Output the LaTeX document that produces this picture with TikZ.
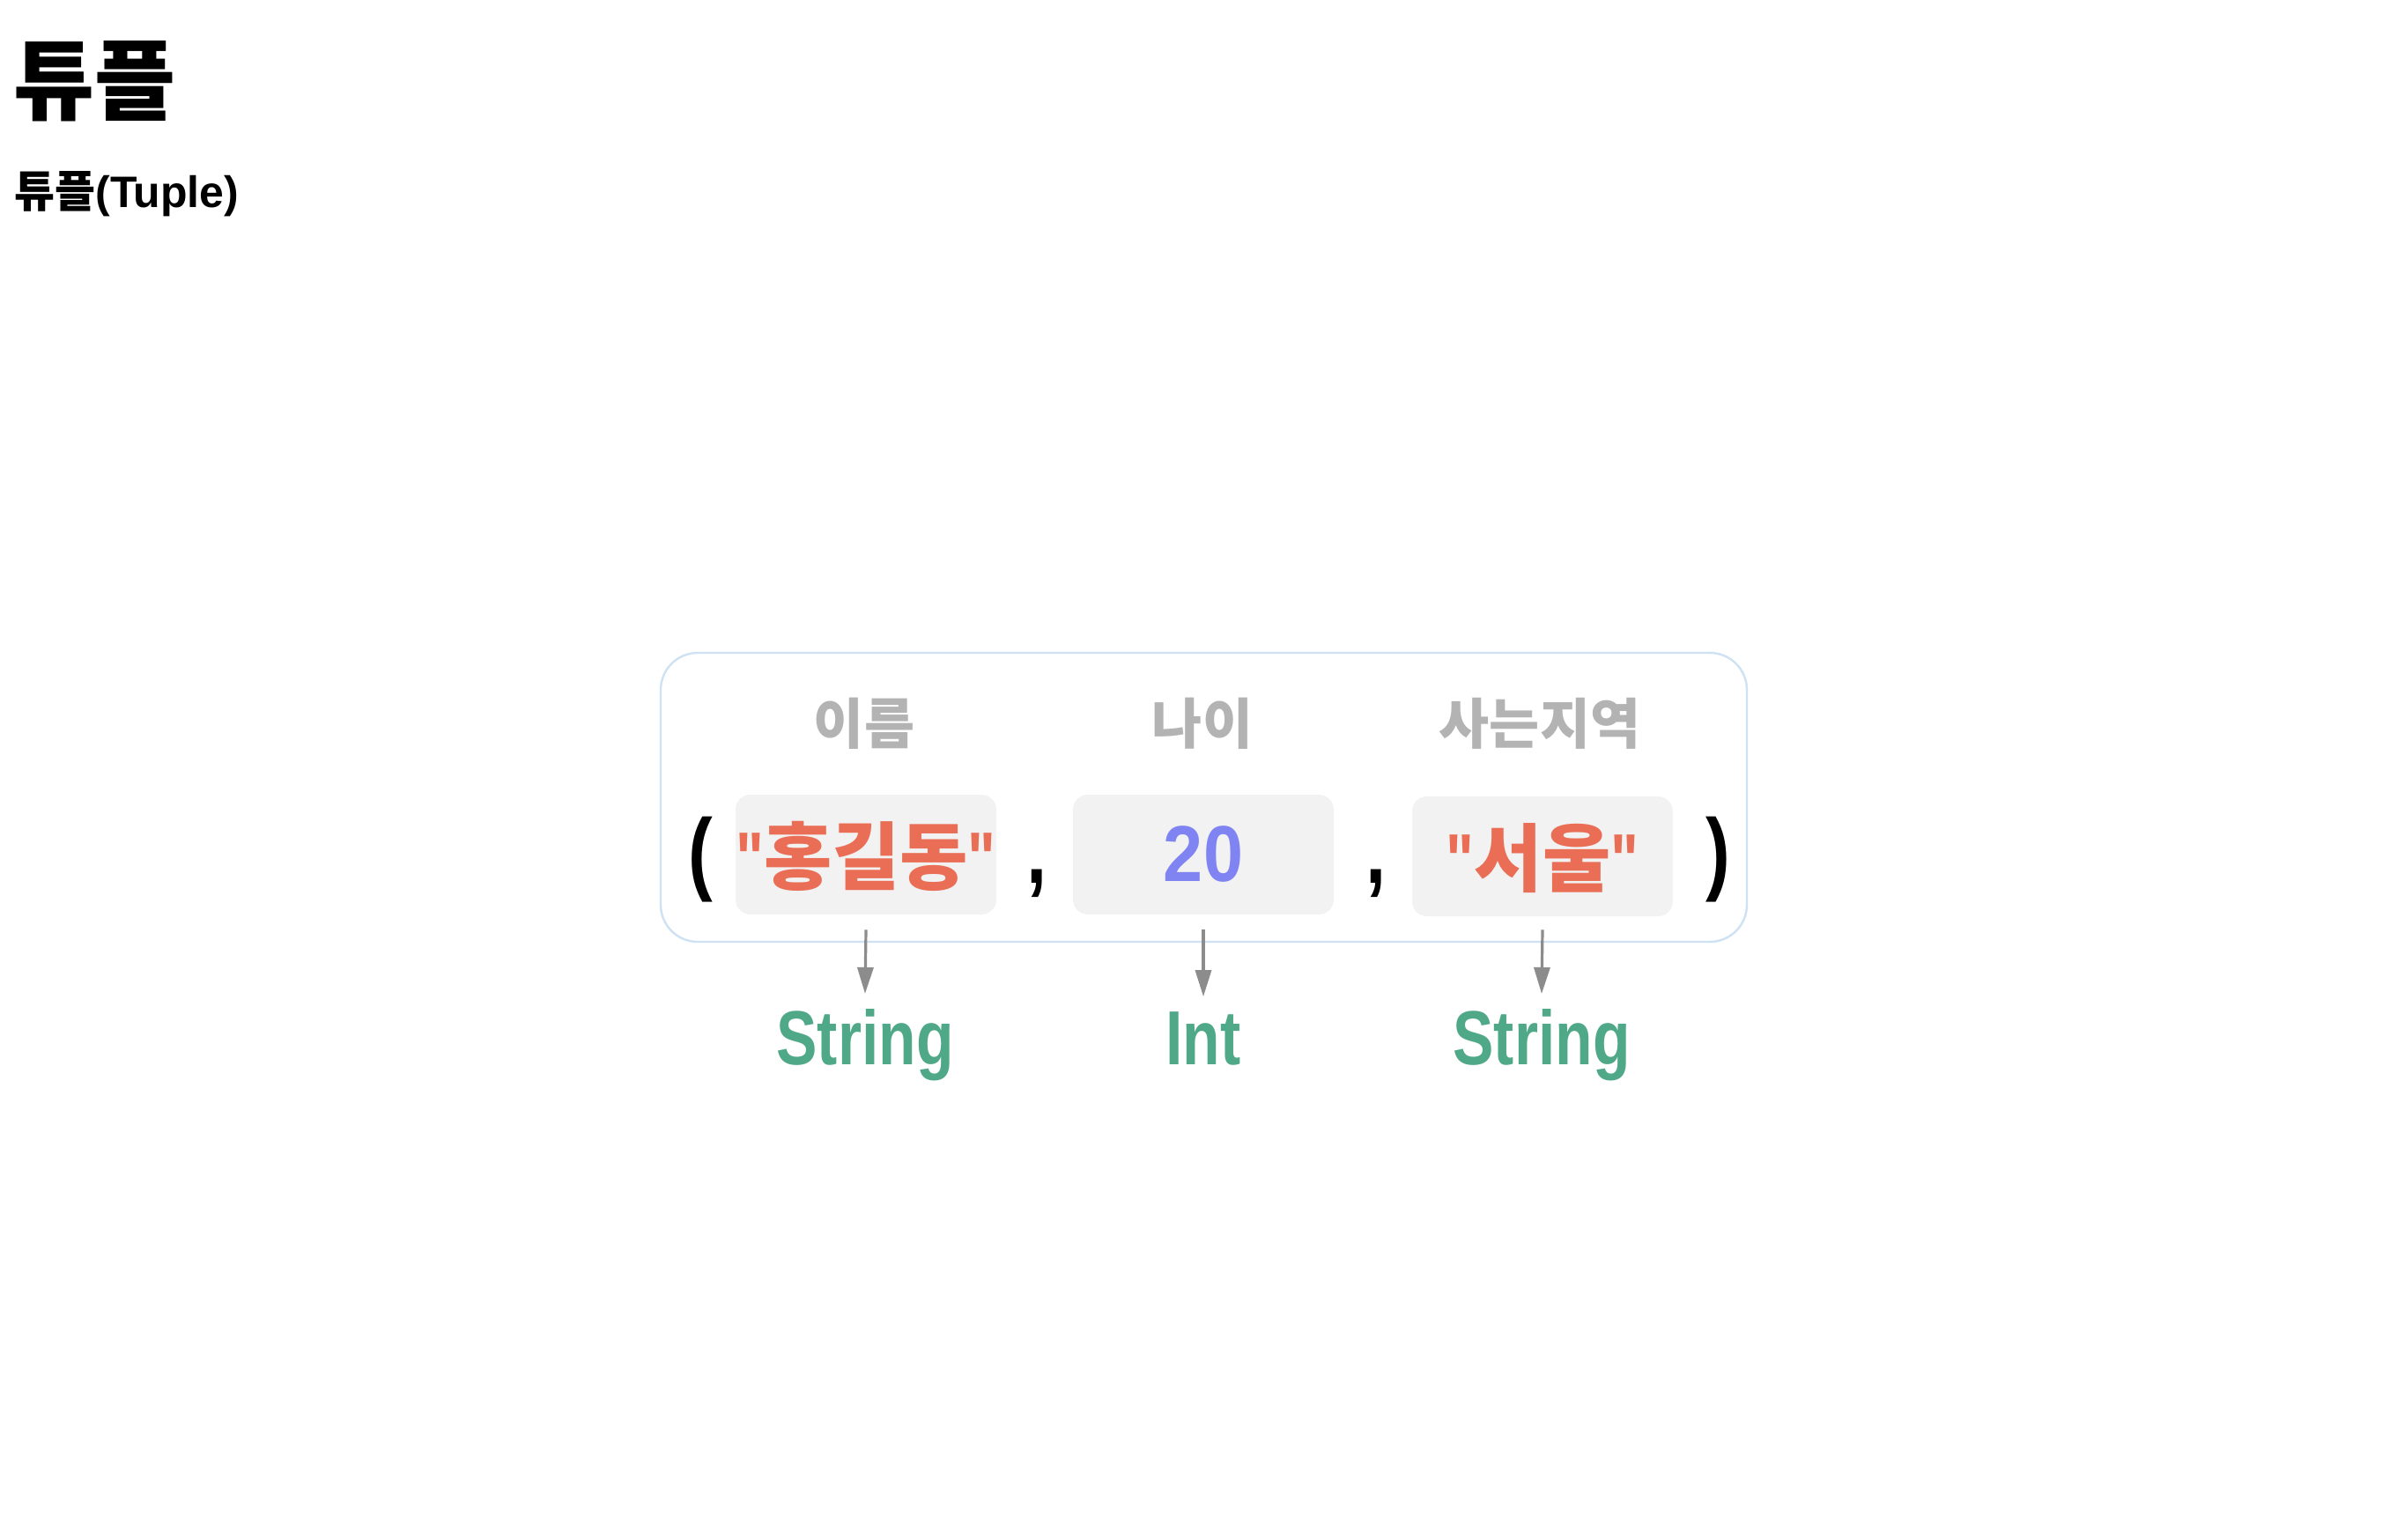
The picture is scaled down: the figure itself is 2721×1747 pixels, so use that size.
\documentclass[tikz,border=0pt]{standalone}
\usepackage{fontspec}
\setmainfont{Liberation Sans}
\newfontfamily\kr{Noto Sans CJK KR}
\newfontfamily\lat{Liberation Sans}[FakeStretch=0.8]
\newfontfamily\latn{Liberation Sans}[FakeStretch=0.9]
\usetikzlibrary{arrows.meta}
\definecolor{bordblue}{HTML}{CFE2F3}
\definecolor{valfill}{HTML}{F2F2F2}
\definecolor{strcol}{HTML}{E96E55}
\definecolor{numcol}{HTML}{7F84F2}
\definecolor{typecol}{HTML}{4FA888}
\definecolor{labgray}{HTML}{B3B3B3}
\definecolor{arrgray}{HTML}{8C8C8C}
\tikzset{
  txt/.style={inner sep=0pt, outer sep=0pt, anchor=base},
  outerbox/.style={draw=bordblue, line width=1.2pt, rounded corners=21pt, minimum width=616.5pt, minimum height=164pt, inner sep=0pt},
  valbox/.style={fill=valfill, rounded corners=8.5pt, minimum width=148pt, minimum height=68pt, inner sep=0pt},
  fieldlab/.style={txt, text=labgray, font=\kr\bfseries\fontsize{31}{31}\selectfont},
  strval/.style={txt, text=strcol, font=\fontsize{42}{42}\selectfont},
  numval/.style={txt, text=numcol, font=\latn\bfseries\fontsize{45}{45}\selectfont},
  punct/.style={txt, text=black, font=\lat\bfseries\fontsize{52}{52}\selectfont},
  typelab/.style={txt, text=typecol, font=\lat\bfseries\fontsize{43.5}{43.5}\selectfont},
  arr/.style={draw=arrgray, line width=1.6pt, -{Triangle[length=15pt, width=9pt]}}
}
\begin{document}
\begin{tikzpicture}[x=0.5pt,y=-0.5pt]
\useasboundingbox (0,0) rectangle (2721,1747);
\fill[white] (0,0) rectangle (2721,1747);
% titles
\node[inner sep=0pt, anchor=base west] (title) at (15,128) {\kr\bfseries\fontsize{50}{50}\selectfont 튜플};
\node[inner sep=0pt, anchor=base west] (subtitle) at (16,235) {\fontsize{25}{25}\selectfont{\kr\bfseries 튜플}{\bfseries (Tuple)}};
% outer frame
\node[outerbox] (frame) at (1366.5,905) {};
% field labels
\node[fieldlab] (l1) at (981,844) {이름};
\node[fieldlab] (l2) at (1365,844) {나이};
\node[fieldlab] (l3) at (1748,844) {사는지역};
% value boxes
\node[valbox] (v1) at (983,970) {};
\node[valbox] (v2) at (1366,970) {};
\node[valbox] (v3) at (1751,972) {};
% values
\node[strval] (t1) at (983,1003) {{\lat\bfseries "}{\kr\bfseries 홍길동}{\lat\bfseries "}};
\node[numval] (t2) at (1366,1000) {20};
\node[strval] (t3) at (1751,1005) {{\lat\bfseries "}{\kr\bfseries 서울}{\lat\bfseries "}};
% punctuation
\node[punct] (lp) at (795,1002) {(};
\node[punct] (c1) at (1177,1002) {,};
\node[punct] (c2) at (1562,1002) {,};
\node[punct] (rp) at (1950,1002) {)};
% types
\node[typelab] (s1) at (982,1208) {String};
\node[typelab] (s2) at (1366,1208) {Int};
\node[typelab] (s3) at (1750,1208) {String};
% arrows
\draw[arr] ([yshift=-8.5pt]v1.south) -- ([yshift=8.5pt]s1.north);
\draw[arr] ([yshift=-8.5pt]v2.south) -- ([yshift=8.5pt]s2.north);
\draw[arr] ([yshift=-7.5pt]v3.south) -- ([yshift=8.5pt]s3.north);
\end{tikzpicture}
\end{document}
